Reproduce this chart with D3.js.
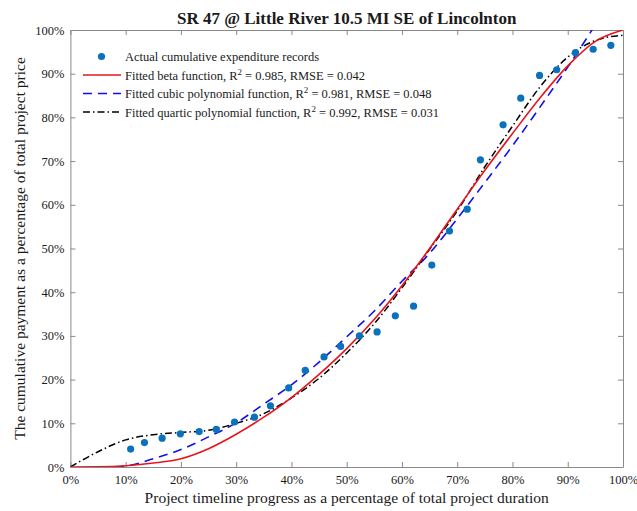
<!DOCTYPE html>
<html>
<head>
<meta charset="utf-8">
<script src="https://cdn.jsdelivr.net/npm/d3@7"></script>
<style>
  body { margin: 0; background: #fff; }
  text { font-family: "Liberation Serif", "Times New Roman", serif; fill: #1a1a1a; }
</style>
</head>
<body>
<svg id="chart" width="637" height="511"></svg>
<script>
// tick labels (percent)
const xTicks = [0, 10, 20, 30, 40, 50, 60, 70, 80, 90, 100];
const yTicks = [0, 10, 20, 30, 40, 50, 60, 70, 80, 90, 100];

// actual cumulative expenditure records (% duration, % price)
const actualX = [10.9, 13.4, 16.6, 19.9, 23.3, 26.4, 29.7, 33.3, 36.2, 39.5, 42.5, 45.9, 48.9, 52.3,
  55.5, 58.8, 62.1, 65.4, 68.6, 71.8, 74.2, 78.3, 81.5, 84.9, 88.0, 91.4, 94.6, 97.8];
const actualY = [4.1, 5.6, 6.6, 7.6, 8.1, 8.6, 10.3, 11.4, 14.0, 18.1, 22.1, 25.2, 27.6, 30.0,
  30.9, 34.6, 36.8, 46.2, 54.0, 59.0, 70.3, 78.3, 84.4, 89.6, 90.9, 94.8, 95.6, 96.5];

// fitted curves, every 5% of duration
const curveX = [0, 5, 10, 15, 20, 25, 30, 35, 40, 45, 50, 55, 60, 65, 70, 75, 80, 85, 90, 95, 100];
const betaY = [0, 0.05, 0.3, 0.9, 1.9, 4.2, 7.5, 11.4, 15.9, 21.2, 27.1, 33.8, 41.5, 50.0, 59.0, 67.9, 76.3, 84.5, 91.8, 97.4, 100];
const cubicY = [-0.8, -0.2, 0.2, 1.9, 4.0, 6.9, 10.1, 14.4, 18.8, 24.0, 29.8, 35.7, 42.5, 48.9, 56.8, 65.1, 73.5, 82.4, 91.5, 101.2];
const quarticY = [0, 3.5, 6.2, 7.4, 7.9, 8.4, 10.0, 12.2, 15.8, 20.3, 26.1, 32.8, 41.0, 49.8, 58.6, 68.7, 78.0, 87.0, 93.8, 97.6, 98.8];

const legendLabels = [
  "Actual cumulative expenditure records",
  ["Fitted beta function, R", " = 0.985, RMSE = 0.042"],
  ["Fitted cubic polynomial function, R", " = 0.981, RMSE = 0.048"],
  ["Fitted quartic polynomial function, R", " = 0.992, RMSE = 0.031"]
];

const COLOR = {
  dots: "#0a72bd",
  beta: "#e8141c",
  cubic: "#1010e8",
  quartic: "#000000",
  axis: "#8a8a8a"
};

const svg = d3.select("#chart");
const plotLeft = 70.4, plotRight = 623, plotTop = 30, plotBottom = 467;

const x = d3.scaleLinear().domain([0, 100]).range([plotLeft, plotRight]);
const y = d3.scaleLinear().domain([0, 100]).range([plotBottom, plotTop]);

svg.append("defs").append("clipPath").attr("id", "plotclip")
  .append("rect")
  .attr("x", plotLeft).attr("y", plotTop)
  .attr("width", plotRight - plotLeft).attr("height", plotBottom - plotTop);

// axes (ticks point inward, box on)
const fmt = (d) => d + "%";
svg.append("g")
  .attr("class", "myXaxis")
  .attr("transform", `translate(0,${plotBottom})`)
  .call(d3.axisBottom(x).tickValues(xTicks).tickFormat(fmt).tickSizeInner(-5).tickSizeOuter(0).tickPadding(8));
svg.append("g")
  .attr("class", "myYaxis")
  .attr("transform", `translate(${plotLeft},0)`)
  .call(d3.axisLeft(y).tickValues(yTicks).tickFormat(fmt).tickSizeInner(-5).tickSizeOuter(0).tickPadding(6));
svg.append("g")
  .attr("transform", `translate(0,${plotTop})`)
  .call(d3.axisTop(x).tickValues(xTicks).tickFormat("").tickSizeInner(-5).tickSizeOuter(0));
svg.append("g")
  .attr("transform", `translate(${plotRight},0)`)
  .call(d3.axisRight(y).tickValues(yTicks).tickFormat("").tickSizeInner(-5).tickSizeOuter(0));

svg.selectAll(".domain").attr("stroke", COLOR.axis);
svg.selectAll(".tick line").attr("stroke", COLOR.axis);
svg.selectAll(".tick text")
  .style("font-family", '"Liberation Serif", serif')
  .style("font-size", "12.5px")
  .attr("fill", "#1a1a1a");

// fitted curves
const plot = svg.append("g").attr("clip-path", "url(#plotclip)");
const line = (ys) => d3.line()
  .x((d, i) => x(curveX[i]))
  .y((d) => y(d))
  .curve(d3.curveMonotoneX)(ys);

plot.append("path")
  .attr("d", line(cubicY))
  .attr("fill", "none")
  .attr("stroke", COLOR.cubic)
  .attr("stroke-width", 1.6)
  .attr("stroke-dasharray", "9,6");

plot.append("path")
  .attr("d", line(quarticY))
  .attr("fill", "none")
  .attr("stroke", COLOR.quartic)
  .attr("stroke-width", 1.5)
  .attr("stroke-dasharray", "7,3,1.5,3");

plot.append("path")
  .attr("d", line(betaY))
  .attr("fill", "none")
  .attr("stroke", COLOR.beta)
  .attr("stroke-width", 1.6);

// actual records
svg.append("g").selectAll("circle")
  .data(actualX)
  .enter()
  .append("circle")
  .attr("cx", (d) => x(d))
  .attr("cy", (d, i) => y(actualY[i]))
  .attr("r", 3.6)
  .attr("fill", COLOR.dots);

// legend
const lg = svg.append("g");
const rowY = [56.5, 75, 93.5, 112];
lg.append("circle").attr("cx", 101.5).attr("cy", rowY[0]).attr("r", 3.6).attr("fill", COLOR.dots);
const legLines = [
  { c: COLOR.beta, dash: null },
  { c: COLOR.cubic, dash: "9,6" },
  { c: COLOR.quartic, dash: "7,3,1.5,3" }
];
legLines.forEach(function (s, i) {
  lg.append("line")
    .attr("x1", 83).attr("x2", 121)
    .attr("y1", rowY[i + 1]).attr("y2", rowY[i + 1])
    .attr("stroke", s.c)
    .attr("stroke-width", 1.6)
    .attr("stroke-dasharray", s.dash);
});
legendLabels.forEach(function (lab, i) {
  const t = lg.append("text")
    .attr("x", 125)
    .attr("y", rowY[i] + 4.5)
    .style("font-size", "12.5px");
  if (typeof lab === "string") {
    t.text(lab);
  } else {
    t.append("tspan").text(lab[0]);
    t.append("tspan").attr("dy", -5).style("font-size", "9px").text("2");
    t.append("tspan").attr("dy", 5).text(lab[1]);
  }
});

// title and axis labels
svg.append("text")
  .attr("x", (plotLeft + plotRight) / 2)
  .attr("y", 24)
  .attr("text-anchor", "middle")
  .style("font-size", "17px")
  .style("font-weight", "bold")
  .text("SR 47 @ Little River 10.5 MI SE of Lincolnton");

svg.append("text")
  .attr("x", (plotLeft + plotRight) / 2)
  .attr("y", 503)
  .attr("text-anchor", "middle")
  .style("font-size", "15.5px")
  .text("Project timeline progress as a percentage of total project duration");

svg.append("text")
  .attr("transform", `translate(25,${(plotTop + plotBottom) / 2}) rotate(-90)`)
  .attr("text-anchor", "middle")
  .style("font-size", "15.5px")
  .text("The cumulative payment as a percentage of total project price");
</script>
</body>
</html>
